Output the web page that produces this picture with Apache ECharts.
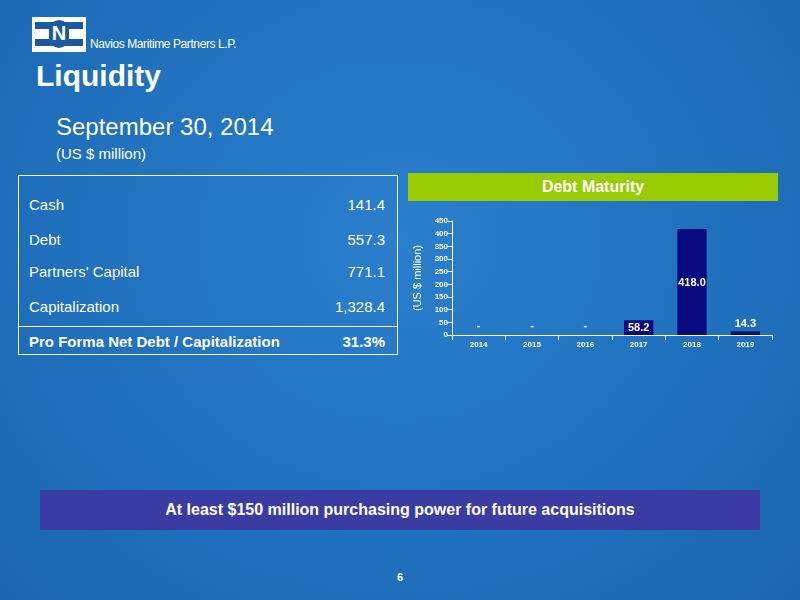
<!DOCTYPE html>
<html>
<head>
<meta charset="utf-8">
<script src="https://cdn.jsdelivr.net/npm/echarts@6/dist/echarts.min.js"></script>
<style>
body{margin:0;width:800px;height:600px;overflow:hidden;font-family:"Liberation Sans",Arial,sans-serif;color:#fff;
 background:radial-gradient(ellipse at 50% 40%,#2a7fcc 0%,#1f70bd 60%,#1b66b0 100%);position:relative}
.abs{position:absolute}
#logo{left:32px;top:17px;width:52px;height:33px;background:#fff;border:1px solid #fff}
#logo .bar{position:absolute;background:#1c5aa0}
#tbl{left:18px;top:175px;width:380px;height:180px;border:1px solid #fff;box-sizing:border-box}
.row{position:absolute;left:10px;right:12px;font-size:15px}
.row span{position:absolute;right:0}
</style>
</head>
<body>
<div id="logo" class="abs">
 <div class="bar" style="left:2px;top:4px;width:48px;height:7px"></div>
 <div class="bar" style="left:2px;top:21px;width:48px;height:7px"></div>
 <div class="bar" style="left:16px;top:2px;width:20px;height:28px;border-radius:10px;background:#1c5aa0"></div>
 <div class="abs" style="left:16px;top:4px;width:20px;text-align:center;font:bold 20px 'Liberation Sans';color:#fff">N</div>
</div>
<div class="abs" style="left:90px;top:37px;font-size:12px;letter-spacing:-0.4px">Navios Maritime Partners L.P.</div>
<div class="abs" style="left:36px;top:59px;font-size:30px;font-weight:bold">Liquidity</div>
<div class="abs" style="left:56px;top:113px;font-size:24px">September 30, 2014</div>
<div class="abs" style="left:56px;top:145px;font-size:15px">(US $ million)</div>

<div id="tbl" class="abs"></div>
<div class="abs" style="left:18px;top:326px;width:380px;height:1px;background:#fff"></div>

<div class="abs" style="left:408px;top:173px;width:370px;height:28px;background:#99cc00;text-align:center;font-size:16px;font-weight:bold;line-height:28px">Debt Maturity</div>
<div id="chart" class="abs" style="left:400px;top:210px;width:380px;height:150px"></div>

<div class="abs" style="left:40px;top:490px;width:720px;height:40px;background:#3b3ca3;text-align:center;font-size:16px;font-weight:bold;line-height:40px">At least $150 million purchasing power for future acquisitions</div>
<div class="abs" style="left:0;top:571px;width:800px;text-align:center;font-size:11px;font-weight:bold">6</div>

<script>
// 表格資料
var rowLabels = ["Cash", "Debt", "Partners' Capital", "Capitalization", "Pro Forma Net Debt / Capitalization"];
var rowValues = ["141.4", "557.3", "771.1", "1,328.4", "31.3%"];
var rowTops = [195, 230, 262, 297, 332];
// 圖表資料
var years = ['2014', '2015', '2016', '2017', '2018', '2019'];
var debt = [0, 0, 0, 58.2, 418.0, 14.3];
var yTicks = [0, 450, 50];

var html = '';
for (var i = 0; i < rowLabels.length; i++) {
    var b = i == 4 ? 'font-weight:bold;' : '';
    html += '<div class="row" style="top:' + (rowTops[i] - 175) + 'px;' + b + '">' + rowLabels[i] + '<span>' + rowValues[i] + '</span></div>';
}
document.getElementById('tbl').innerHTML = html;

var chart = echarts.init(document.getElementById('chart'));
var data = [];
for (var j = 0; j < debt.length; j++) {
    var pos = (debt[j] < 30) ? 'top' : 'insideTop';
    data.push({value: debt[j], label: {position: pos, distance: debt[j] == 0 ? 4 : 2, offset: j == 4 ? [0, 46] : [0, 0]}});
}
chart.setOption({
    animation: false,
    grid: {left: 52, right: 8, top: 11, bottom: 25},
    xAxis: {
        type: 'category', data: years,
        axisLine: {lineStyle: {color: '#fff'}},
        axisTick: {show: true, lineStyle: {color: '#fff'}},
        axisLabel: {color: '#fff', fontSize: 8, fontWeight: 'bold', margin: 6}
    },
    yAxis: {
        type: 'value', min: yTicks[0], max: yTicks[1], interval: yTicks[2],
        name: '(US $ million)', nameLocation: 'middle', nameGap: 28,
        nameTextStyle: {color: '#fff', fontSize: 11},
        axisLine: {show: true, lineStyle: {color: '#fff'}},
        axisTick: {show: true, lineStyle: {color: '#fff'}},
        splitLine: {show: false},
        axisLabel: {color: '#fff', fontSize: 8, fontWeight: 'bold', margin: 4}
    },
    series: [{
        type: 'bar', data: data, barWidth: '55%',
        itemStyle: {color: '#0a0a80'},
        label: {
            show: true, color: '#fff', fontSize: 11, fontWeight: 'bold',
            formatter: function (p) { return p.value == 0 ? '-' : p.value.toFixed(1); }
        }
    }]
});
</script>
</body>
</html>
